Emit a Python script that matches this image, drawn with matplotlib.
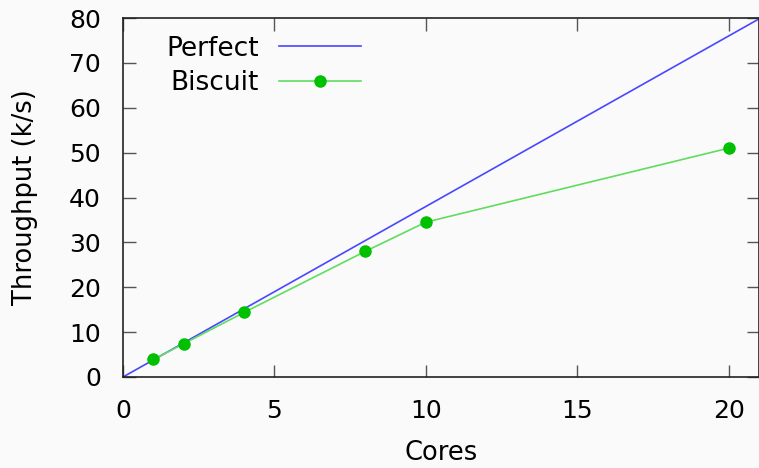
import matplotlib
matplotlib.use('Agg')
import matplotlib.pyplot as plt

# Podatki, odčitani z grafa
perfect_x = [0, 21]
perfect_y = [0, 79.8]
cores = [1, 2, 4, 8, 10, 20]
biscuit = [3.9, 7.4, 14.4, 28.0, 34.5, 51.0]

plt.rcParams['font.family'] = 'DejaVu Sans'

fig = plt.figure(figsize=(7.59, 4.68), dpi=100, facecolor='#fafafa')
ax = fig.add_axes([123 / 759, 91 / 468, 636 / 759, 359 / 468])
ax.set_facecolor('#fafafa')

ax.plot(perfect_x, perfect_y, color='#4848ff', lw=1.2, label='Perfect')
ax.plot(cores, biscuit, color='#60dd60', lw=1.2, marker='o', ms=8,
        markerfacecolor='#00c000', markeredgecolor='#00c000', label='Biscuit')

ax.set_xlim(0, 21)
ax.set_ylim(0, 80)
ax.set_xticks([0, 5, 10, 15, 20])
ax.set_yticks(range(0, 81, 10))
ax.tick_params(direction='in', length=9, width=1, color='#555555',
               top=True, right=True, labelsize=18)
ax.tick_params(axis='x', pad=16)
ax.tick_params(axis='y', pad=16)
for s in ax.spines.values():
    s.set_color('#222222')
    s.set_linewidth(1.2)

ax.set_xlabel('Cores', fontsize=18.5, labelpad=12)
ax.set_ylabel('Throughput (k/s)', fontsize=18.5, labelpad=22)

leg = ax.legend(loc='upper left', bbox_to_anchor=(0.031, 1.017), frameon=False,
                markerfirst=False, fontsize=19, handlelength=3.1,
                handletextpad=0.75, labelspacing=0.32)
for t in leg.get_texts():
    t.set_ha('right')

fig.savefig('out.png', dpi=100, facecolor='#fafafa')
